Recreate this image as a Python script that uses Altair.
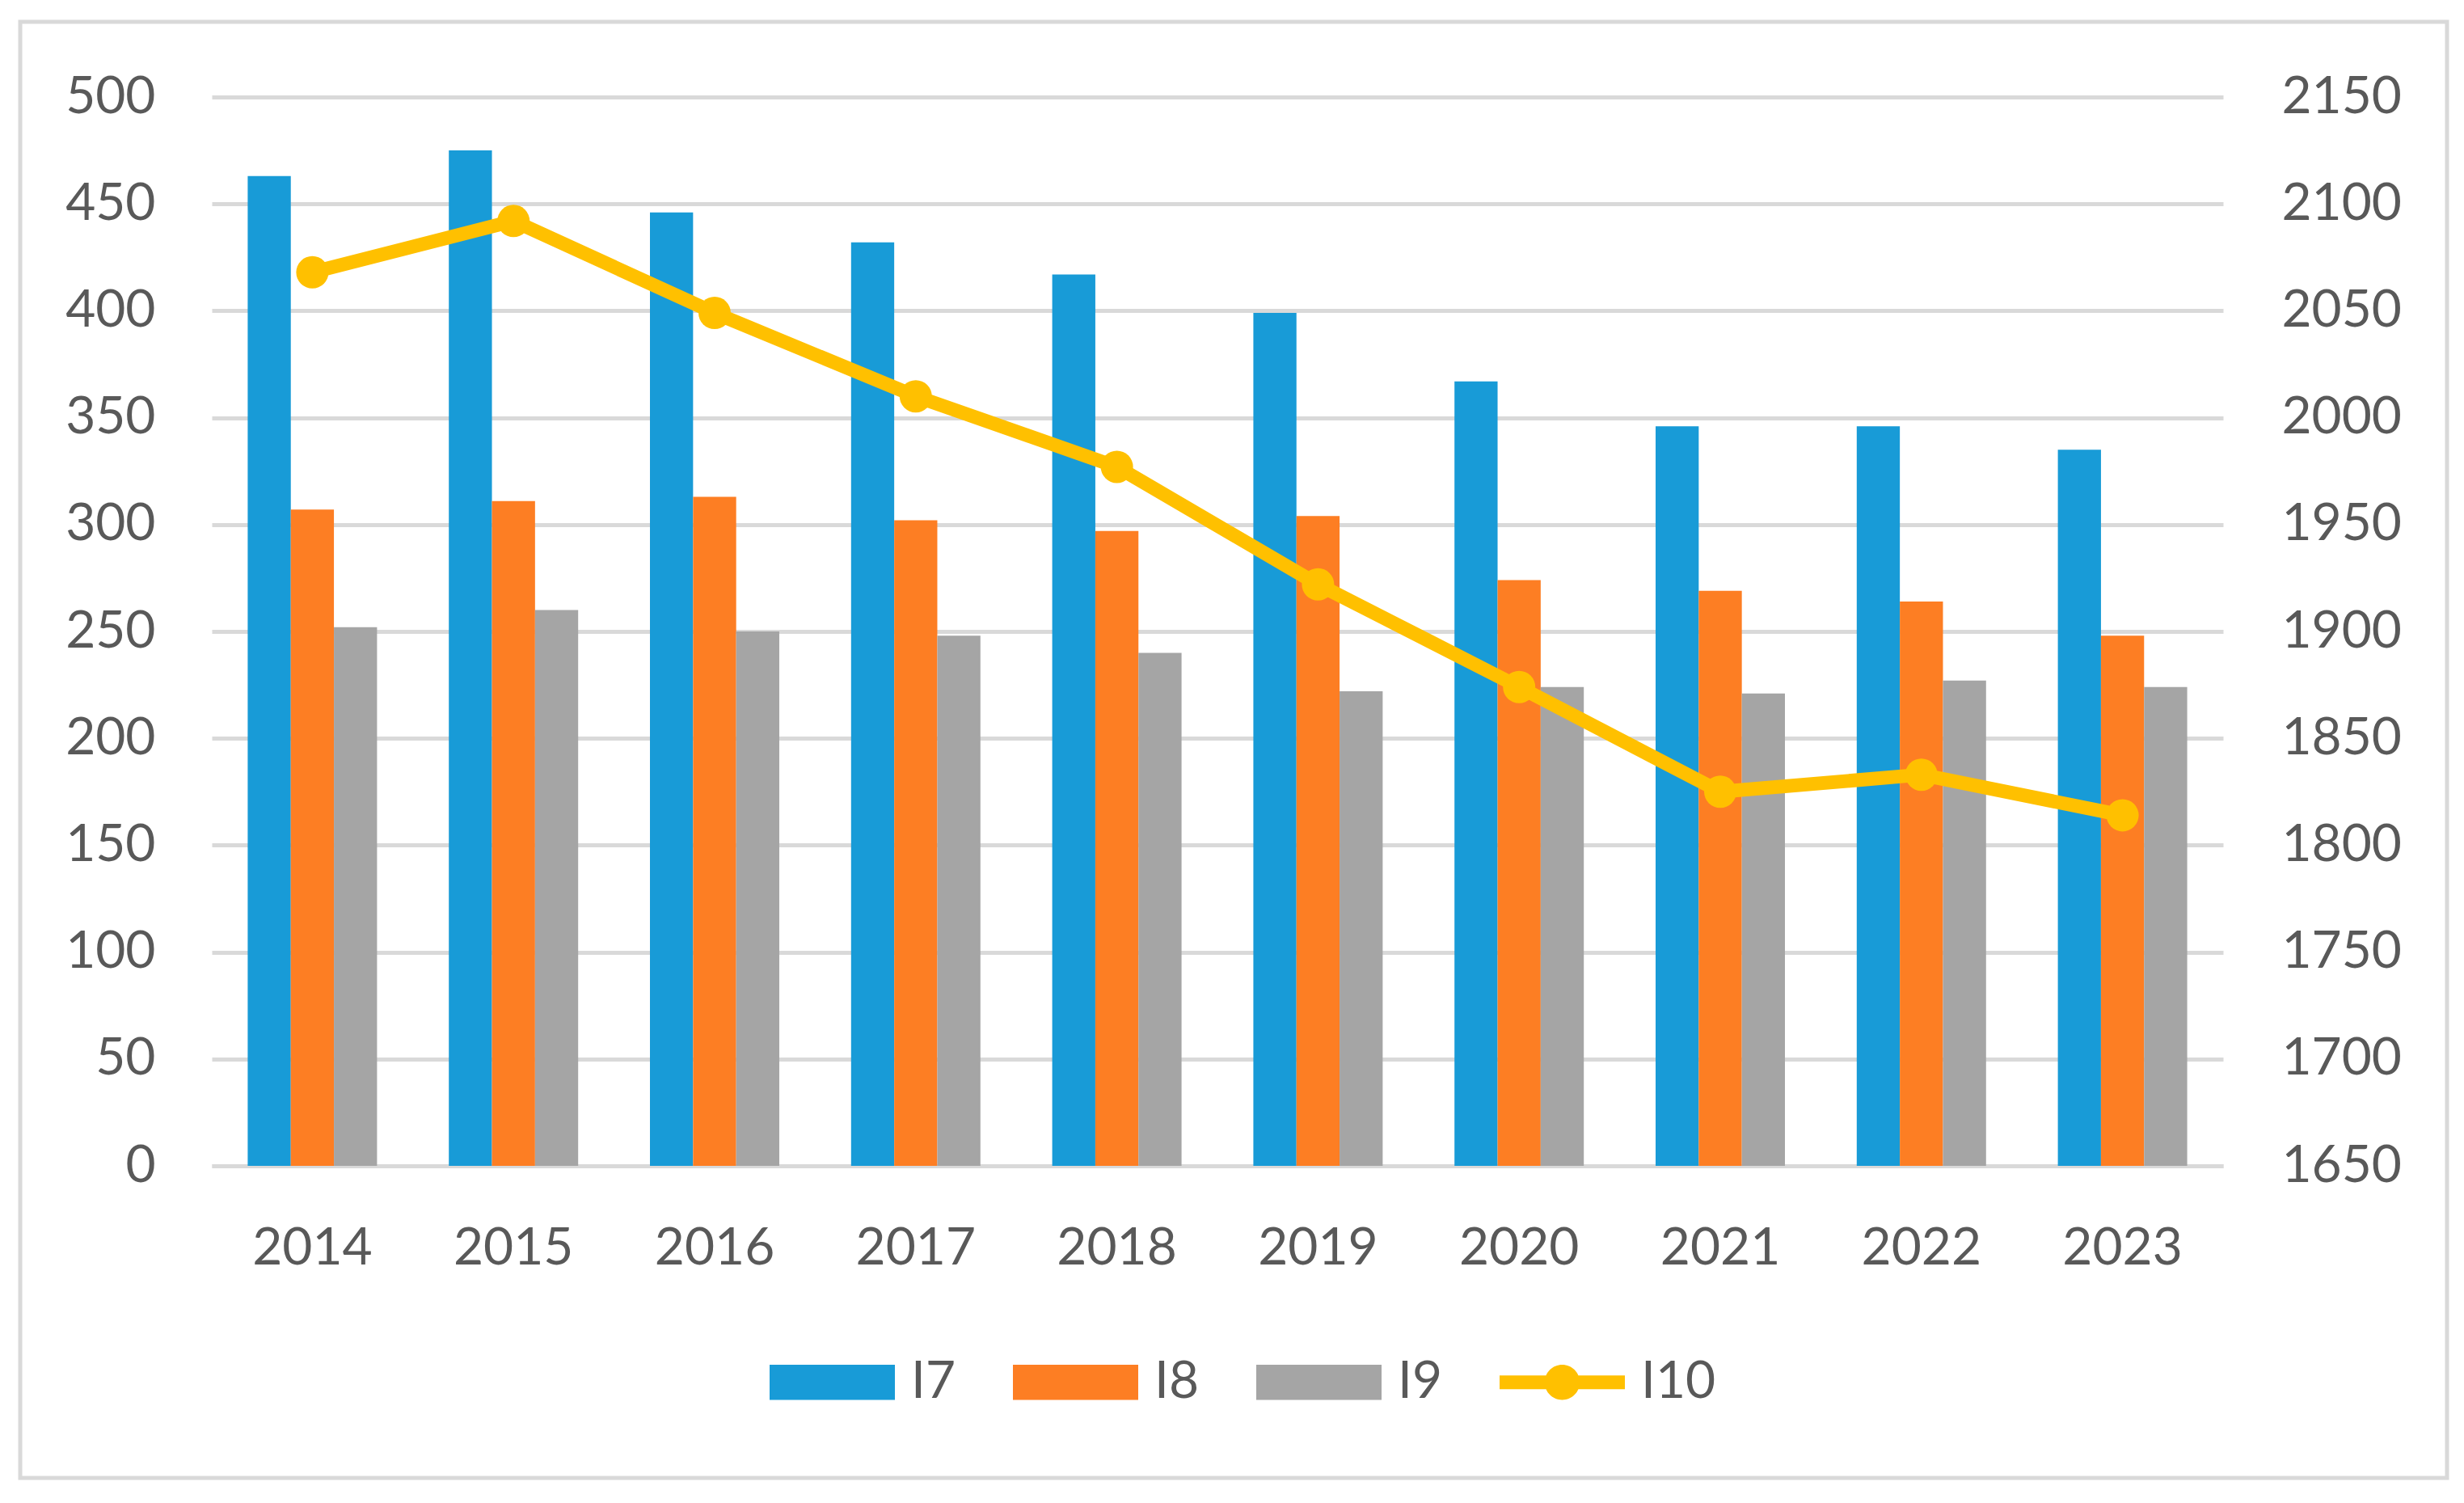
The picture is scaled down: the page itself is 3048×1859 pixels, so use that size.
import altair as alt
import pandas as pd

years = ["2014", "2015", "2016", "2017", "2018", "2019", "2020", "2021", "2022", "2023"]
i7 = [463, 475, 446, 432, 417, 399, 367, 346, 346, 335]
i8 = [307, 311, 313, 302, 297, 304, 274, 269, 264, 248]
i9 = [252, 260, 250, 248, 240, 222, 224, 221, 227, 224]
i10 = [2068, 2092, 2049, 2010, 1977, 1922, 1874, 1825, 1833, 1814]

series_names = ["I7", "I8", "I9", "I10"]
series_colors = ["#189BD7", "#FD7E23", "#A5A5A5", "#FFC000"]
left_ticks = list(range(0, 501, 50))
right_ticks = list(range(1650, 2151, 50))

bar_df = pd.DataFrame({
    "year": years * 3,
    "series": ["I7"] * 10 + ["I8"] * 10 + ["I9"] * 10,
    "value": i7 + i8 + i9,
})
line_df = pd.DataFrame({"year": years, "value": i10})
legend_df = pd.DataFrame({"series": series_names, "v": [0, 0, 0, 0]})

FONT = "Lato"
TXT = "#595959"
GRID = "#D9D9D9"

rect_path = "M-1,-0.28H1V0.28H-1Z"
line_marker_path = ("M-1,-0.11H1V0.11H-1Z "
                    "M0.28,0A0.28,0.28 0 1,1 -0.28,0A0.28,0.28 0 1,1 0.28,0Z")

color_scale = alt.Scale(domain=series_names, range=series_colors)
shape_scale = alt.Scale(domain=series_names,
                        range=[rect_path, rect_path, rect_path, line_marker_path])


def make_legend():
    return alt.Legend(
        title=None, orient="none", legendX=690, legendY=1512,
        direction="horizontal", columns=4, symbolSize=24025,
        labelFontSize=64, labelFont=FONT, labelColor=TXT, labelOffset=20,
        columnPadding=70, symbolStrokeWidth=0, symbolOpacity=1,
    )


x_enc = alt.X(
    "year:N", sort=years,
    scale=alt.Scale(paddingInner=0.357, paddingOuter=0.1785),
    axis=alt.Axis(title=None, labelAngle=0, ticks=False, grid=False,
                  domainColor=GRID, domainWidth=5, labelPadding=70),
)

bars = alt.Chart(bar_df).mark_bar().encode(
    x=x_enc,
    xOffset=alt.XOffset("series:N", sort=["I7", "I8", "I9"],
                        scale=alt.Scale(paddingInner=0, paddingOuter=0)),
    y=alt.Y("value:Q", scale=alt.Scale(domain=[0, 500], nice=False, zero=True),
            axis=alt.Axis(orient="left", values=left_ticks, title=None,
                          domain=False, ticks=False, gridColor=GRID,
                          gridWidth=5, labelPadding=70)),
    color=alt.Color("series:N", scale=color_scale, legend=make_legend()),
)

y_right = alt.Y("value:Q", scale=alt.Scale(domain=[1650, 2150], nice=False, zero=False),
                axis=alt.Axis(orient="right", values=right_ticks, title=None,
                              grid=False, domain=False, ticks=False,
                              labelPadding=72, format="d"))

line = alt.Chart(line_df).mark_line(color="#FFC000", strokeWidth=17,
                                    strokeJoin="round").encode(
    x=alt.X("year:N", sort=years), y=y_right)
pts = alt.Chart(line_df).mark_point(filled=True, color="#FFC000", size=1600,
                                    opacity=1).encode(
    x=alt.X("year:N", sort=years), y=y_right)
line_layer = alt.layer(line, pts)

legend_layer = alt.Chart(legend_df).mark_point(filled=True, opacity=1).encode(
    color=alt.Color("series:N", scale=color_scale, legend=make_legend()),
    shape=alt.Shape("series:N", scale=shape_scale, legend=make_legend()),
).transform_filter("datum.v > 0")

border = alt.Chart(alt.Data(values=[{}])).mark_rect(
    fill=None, stroke=GRID, strokeWidth=5).encode(
    x=alt.value(-237), x2=alt.value(2765), y=alt.value(-93), y2=alt.value(1708))

chart = alt.layer(border, bars, line_layer, legend_layer).resolve_scale(
    y="independent"
).properties(
    width=2488, height=1322,
    autosize=alt.AutoSizeParams(type="none"),
    padding={"left": 254, "top": 112, "right": 288, "bottom": 406},
).configure_axis(
    labelFont=FONT, labelFontSize=64, labelColor=TXT,
).configure_view(stroke=None)

chart.save("out.html", embed_options={"renderer": "svg", "actions": False})
